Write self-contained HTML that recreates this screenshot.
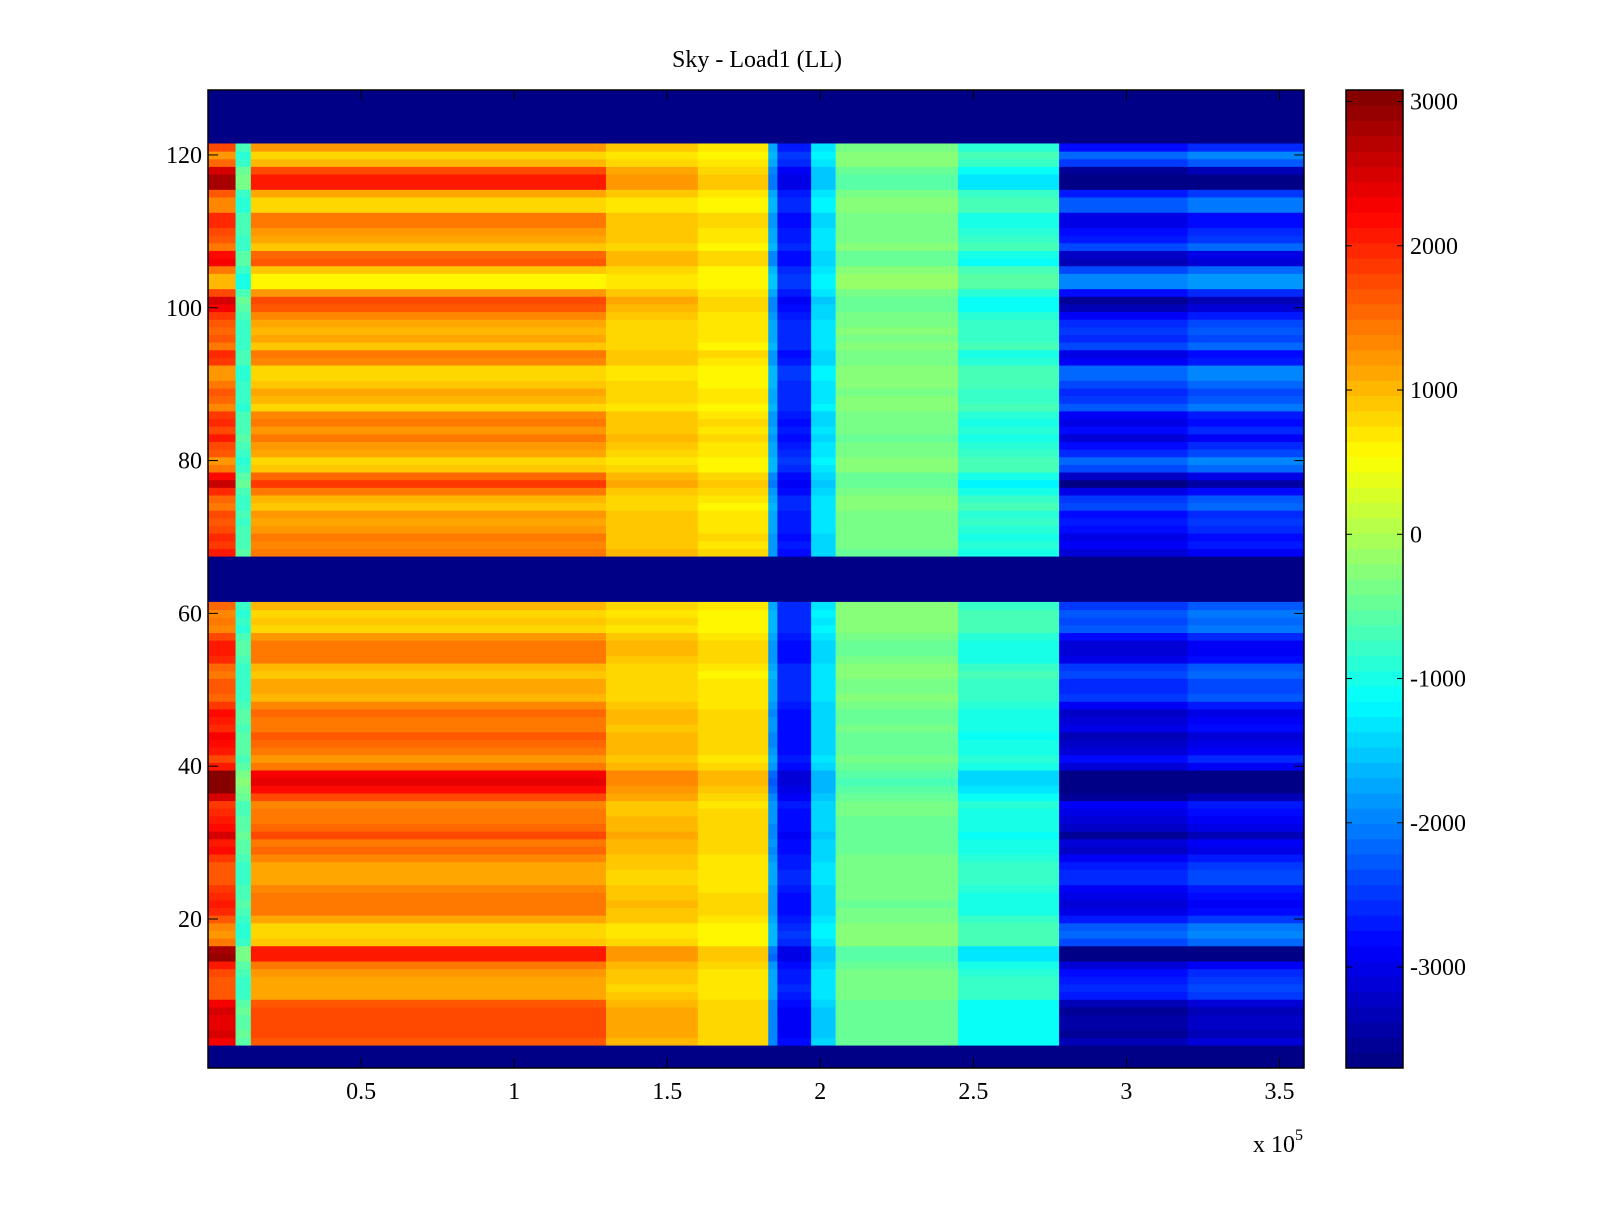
<!DOCTYPE html>
<html><head><meta charset="utf-8"><style>
html,body{margin:0;padding:0;background:#fff;}
svg text{font-family:"Liberation Serif",serif;fill:#000;}
</style></head><body>
<svg id="chart" width="1600" height="1200" viewBox="0 0 1600 1200" xmlns="http://www.w3.org/2000/svg">
<text x="757" y="67" font-size="24" text-anchor="middle">Sky - Load1 (LL)</text>
<g id="cells"></g>
<g id="axes"></g>
<g id="cbar"></g>
</svg>
<script>
// x segments (units of 1e5)
const segEdges = [0, 0.09, 0.14, 1.3, 1.6, 1.83, 1.86, 1.97, 2.05, 2.45, 2.78, 3.2, 3.58];
const segBase  = [1500, -800, 1000, 800, 650, -1700, -2600, -1300, -300, -750, -2500, -2300];
const segGain  = [1000, 300, 800, 300, 200, -300, -300, -200, -200, -400, -1000, -1000];
// row offsets for rows 1..128 (null = no data)
const rowOffset = [null,null,null,0.8,1.0,0.9,0.9,1.0,0.8,0.2,0.1,0.2,0.3,0.6,1.4,1.3,-0.1,-0.3,-0.2,0.2,
0.5,0.6,0.5,0.4,0.1,0.1,0.2,0.4,0.7,0.6,1.0,0.7,0.6,0.5,0.4,1.0,1.5,1.8,1.6,0.6,
0.3,0.6,0.7,0.8,0.5,0.6,0.7,0.4,0.0,0.1,0.1,-0.1,0,0.5,0.6,0.6,0.3,-0.2,-0.1,-0.2,
0,null,null,null,null,null,null,0.6,0.4,0.5,0.3,0.2,0.3,-0.1,0,0.5,1.1,0.7,-0.1,-0.3,
0.1,0.3,0.6,0.3,0.5,0.4,-0.2,0,0.1,-0.1,-0.3,-0.3,0.4,0.5,-0.1,0.1,0,0.1,0.4,0.8,
1.0,0.3,-0.5,-0.5,-0.1,0.8,0.7,-0.1,0.2,0.3,0.5,0.5,-0.2,-0.2,0.2,1.3,1.3,1.0,0,-0.3,
0.3,null,null,null,null,null,null,null];
const xTicks = [0.5, 1, 1.5, 2, 2.5, 3, 3.5];
const xTickLabels = ["0.5","1","1.5","2","2.5","3","3.5"];
const yTicks = [20, 40, 60, 80, 100, 120];
const cTicks = [3000, 2000, 1000, 0, -1000, -2000, -3000];

const L=208,R=1304,T=90,B=1068, XMIN=0, XMAX=3.58, YMIN=0.5, YMAX=128.5, CMIN=-3700, CMAX=3080;
const CBL=1346, CBR=1403;
const sx = v => L + (v-XMIN)/(XMAX-XMIN)*(R-L);
const sy = v => B - (v-YMIN)/(YMAX-YMIN)*(B-T);
const sc = v => B - (v-CMIN)/(CMAX-CMIN)*(B-T);
function jet(v){
  let t=(v-CMIN)/(CMAX-CMIN); t=Math.max(0,Math.min(1,t));
  t=(Math.min(63,Math.floor(t*64))+0.5)/64;
  const c=x=>Math.round(255*Math.max(0,Math.min(1,x)));
  return `rgb(${c(1.5-Math.abs(4*t-3))},${c(1.5-Math.abs(4*t-2))},${c(1.5-Math.abs(4*t-1))})`;
}
const NS="http://www.w3.org/2000/svg";
function mk(tag,attrs,parent){const e=document.createElementNS(NS,tag);for(const k in attrs)e.setAttribute(k,attrs[k]);parent.appendChild(e);return e;}
const cells=document.getElementById('cells');
const bg=mk('rect',{x:L,y:T,width:R-L,height:B-T,fill:jet(CMIN)},cells);


rowOffset.forEach((off,i)=>{
  if(off===null) return;
  const r=i+1;
  for(let s=0;s<segBase.length;s++){
    const v=segBase[s]+segGain[s]*off;
    const y0=sy(r+0.5), y1=sy(r-0.5), x0=sx(segEdges[s]), x1=sx(segEdges[s+1]);
    const el=mk('rect',{x:x0,y:y0,width:x1-x0+0.5,height:y1-y0+0.5,fill:jet(v)},cells);
    
    
  }
});
const ax=document.getElementById('axes');
const fr=mk('rect',{x:L,y:T,width:R-L,height:B-T,fill:'none',stroke:'#000','stroke-width':1.5},ax);


xTicks.forEach((v,i)=>{
  const x=sx(v);
  mk('line',{x1:x,x2:x,y1:B,y2:B-10,stroke:'#000'},ax);
  mk('line',{x1:x,x2:x,y1:T,y2:T+10,stroke:'#000'},ax);
  const t=mk('text',{x:x,y:1099,'font-size':24,'text-anchor':'middle'},ax);
  t.textContent=xTickLabels[i];
  
  
});
yTicks.forEach(v=>{
  const y=sy(v);
  mk('line',{x1:L,x2:L+10,y1:y,y2:y,stroke:'#000'},ax);
  mk('line',{x1:R,x2:R-10,y1:y,y2:y,stroke:'#000'},ax);
  const t=mk('text',{x:202,y:y+8,'font-size':24,'text-anchor':'end'},ax);
  t.textContent=String(v);
  
  
});
const ex=mk('text',{x:1253,y:1152,'font-size':24},ax);
ex.innerHTML='x 10<tspan font-size="16" dy="-12">5</tspan>';


const cb=document.getElementById('cbar');
for(let k=0;k<64;k++){
  const v0=CMIN+(CMAX-CMIN)*k/64, v1=CMIN+(CMAX-CMIN)*(k+1)/64;
  const el=mk('rect',{x:CBL,y:sc(v1),width:CBR-CBL,height:sc(v0)-sc(v1)+0.5,fill:jet((v0+v1)/2)},cb);
  
  
}
const cf=mk('rect',{x:CBL,y:T,width:CBR-CBL,height:B-T,fill:'none',stroke:'#000','stroke-width':1.5},cb);


cTicks.forEach(v=>{
  const y=sc(v);
  mk('line',{x1:CBL,x2:CBL+6,y1:y,y2:y,stroke:'#000'},cb);
  mk('line',{x1:CBR,x2:CBR-6,y1:y,y2:y,stroke:'#000'},cb);
  const t=mk('text',{x:1410,y:y+8,'font-size':24},cb);
  t.textContent=String(v);
  
  
});
</script>
</body></html>
